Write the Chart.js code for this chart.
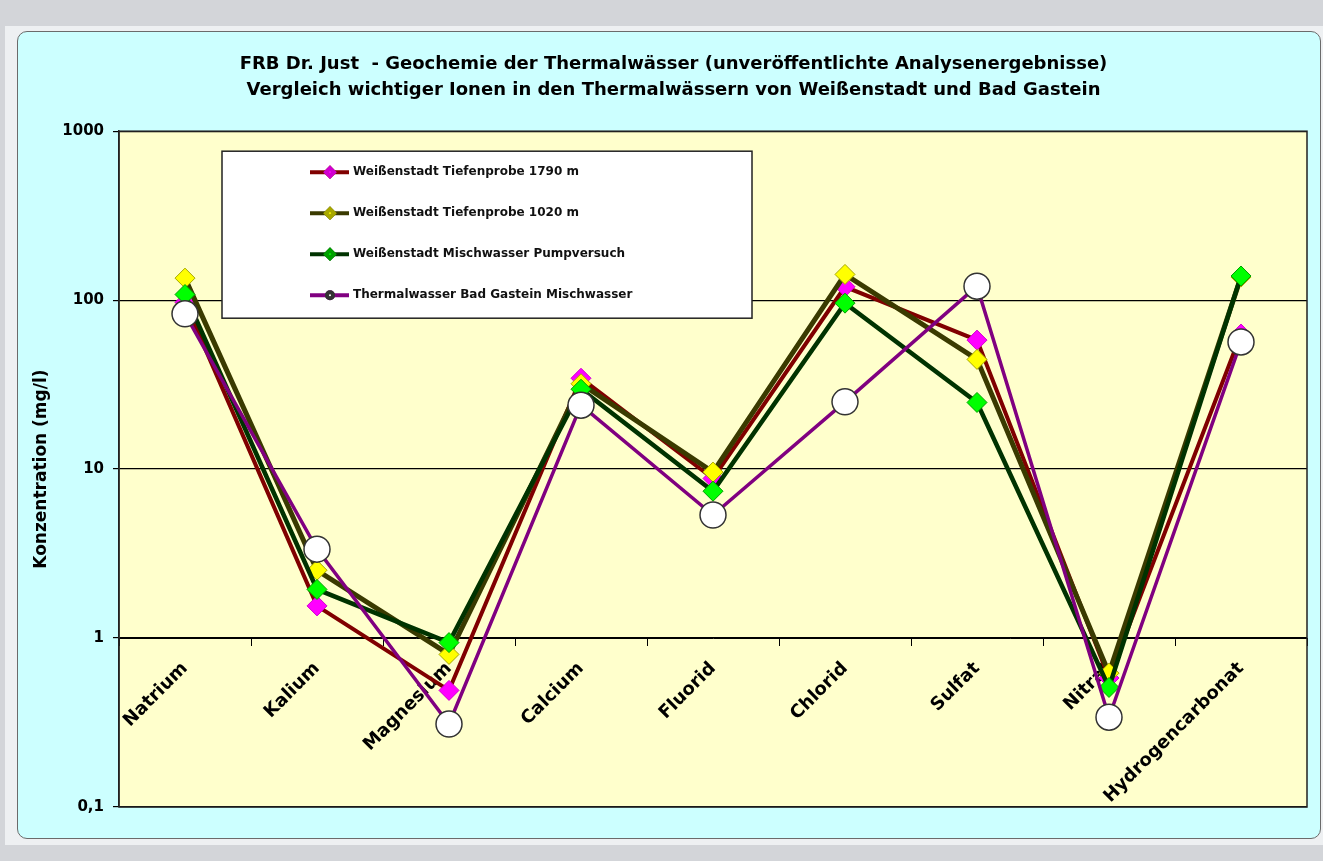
<!DOCTYPE html>
<html>
<head>
<meta charset="utf-8">
<title>Geochemie der Thermalwässer</title>
<script src="https://cdn.jsdelivr.net/npm/chart.js@4.4.1/dist/chart.umd.min.js"></script>
<style>
    html, body { margin: 0; padding: 0; }
    body { width: 1323px; height: 861px; background: #D3D5D9; position: relative; overflow: hidden; }
    #frame { position: absolute; left: 5px; top: 26px; width: 1318px; height: 819px; background: #EEF0F2; }
    #panel { position: absolute; left: 17px; top: 31px; width: 1302px; height: 806px; background: #CCFFFF;
             border: 1px solid #6b6b6b; border-radius: 10px; }
    #wrap { position: absolute; left: 0; top: 0; width: 1323px; height: 861px; }
</style>
</head>
<body>
<div id="frame"></div>
<div id="panel"></div>
<div id="wrap"><canvas id="chart"></canvas></div>

<script>
// Daten (mg/l)
const ionen = ['Natrium', 'Kalium', 'Magnesium', 'Calcium', 'Fluorid', 'Chlorid', 'Sulfat', 'Nitrat', 'Hydrogencarbonat'];

const tiefe1790 = [97, 1.55, 0.49, 34.5, 8.8, 120, 58, 0.58, 63];
const tiefe1020 = [135, 2.52, 0.80, 32, 9.6, 142, 44.6, 0.62, 137];
const mischPump = [108, 1.94, 0.94, 29.7, 7.4, 96, 24.8, 0.51, 139];
const gastein   = [83, 3.36, 0.31, 23.9, 5.35, 25, 121, 0.34, 56.6];

const serienNamen = [
    'Weißenstadt Tiefenprobe 1790 m',
    'Weißenstadt Tiefenprobe 1020 m',
    'Weißenstadt Mischwasser Pumpversuch',
    'Thermalwasser Bad Gastein Mischwasser'
];

const yTicks = [0.1, 1, 10, 100, 1000];
const yLabels = ['0,1', '1', '10', '100', '1000'];

const titelZeilen = [
    'FRB Dr. Just  - Geochemie der Thermalwässer (unveröffentlichte Analysenergebnisse)',
    'Vergleich wichtiger Ionen in den Thermalwässern von Weißenstadt und Bad Gastein'
];

const FONT = '"DejaVu Sans", "Liberation Sans", Arial, sans-serif';

// Hintergrund der Zeichenfläche (gelb)
const plotHintergrund = {
    id: 'plotHintergrund',
    beforeDraw(chart) {
        const { ctx, chartArea: a } = chart;
        ctx.save();
        ctx.fillStyle = '#FFFFCC';
        ctx.fillRect(a.left, a.top, a.right - a.left, a.bottom - a.top);
        ctx.restore();
    }
};

// Rahmen der Zeichenfläche
const plotRahmen = {
    id: 'plotRahmen',
    beforeDatasetsDraw(chart) {
        const { ctx, chartArea: a } = chart;
        ctx.save();
        ctx.strokeStyle = '#222';
        ctx.lineWidth = 1.5;
        ctx.strokeRect(a.left, a.top, a.right - a.left, a.bottom - a.top);
        ctx.restore();
    }
};

// Legende als Kasten innerhalb der Zeichenfläche
const kastenLegende = {
    id: 'kastenLegende',
    afterDraw(chart) {
        const { ctx, chartArea: a } = chart;
        const x = a.left + 103, y = a.top + 20, w = 530, h = 167;
        ctx.save();
        ctx.fillStyle = '#FFFFFF';
        ctx.fillRect(x, y, w, h);
        ctx.strokeStyle = '#222';
        ctx.lineWidth = 1.5;
        ctx.strokeRect(x, y, w, h);

        chart.data.datasets.forEach((ds, i) => {
            const cy = y + 21 + i * 41;
            ctx.strokeStyle = ds.borderColor;
            ctx.lineWidth = 4;
            ctx.beginPath();
            ctx.moveTo(x + 88, cy);
            ctx.lineTo(x + 127, cy);
            ctx.stroke();
            Chart.helpers.drawPoint(ctx, {
                pointStyle: ds.pointStyle,
                radius: ds.pointStyle === 'circle' ? 3 : 4,
                borderWidth: 1
            }, x + 108, cy);
            ctx.fillStyle = ds.pointBackgroundColor;
            ctx.strokeStyle = ds.pointBorderColor;
            ctx.fill();
            ctx.stroke();

            ctx.fillStyle = '#111';
            ctx.font = 'bold 12px ' + FONT;
            ctx.textBaseline = 'middle';
            ctx.textAlign = 'left';
            ctx.fillText(ds.label, x + 131, cy);
        });
        ctx.restore();
    }
};

new Chart(document.getElementById('chart'), {
    type: 'line',
    data: {
        labels: ionen,
        datasets: [
            {
                label: serienNamen[0],
                data: tiefe1790,
                borderColor: '#800000',
                borderWidth: 4,
                pointStyle: 'rectRot',
                pointRadius: 10,
                pointBackgroundColor: '#FF00FF',
                pointBorderColor: '#D000D0',
                pointBorderWidth: 1,
                order: 4
            },
            {
                label: serienNamen[1],
                data: tiefe1020,
                borderColor: '#3A3A00',
                borderWidth: 5,
                pointStyle: 'rectRot',
                pointRadius: 10,
                pointBackgroundColor: '#FFFF00',
                pointBorderColor: '#A8A800',
                pointBorderWidth: 1,
                order: 3
            },
            {
                label: serienNamen[2],
                data: mischPump,
                borderColor: '#003300',
                borderWidth: 4.5,
                pointStyle: 'rectRot',
                pointRadius: 10,
                pointBackgroundColor: '#00FF00',
                pointBorderColor: '#00A000',
                pointBorderWidth: 1,
                order: 2
            },
            {
                label: serienNamen[3],
                data: gastein,
                borderColor: '#800080',
                borderWidth: 3.5,
                pointStyle: 'circle',
                pointRadius: 13,
                pointBackgroundColor: '#FFFFFF',
                pointBorderColor: '#333333',
                pointBorderWidth: 1.5,
                order: 1
            }
        ]
    },
    options: {
        responsive: true,
        maintainAspectRatio: false,
        animation: false,
        events: [],
        layout: { padding: { left: 40, right: 16, top: 0, bottom: 54 } },
        elements: { line: { tension: 0 } },
        plugins: {
            legend: { display: false },
            tooltip: { enabled: false },
            title: {
                display: true,
                text: titelZeilen,
                color: '#000',
                font: { family: FONT, size: 18, weight: 'bold', lineHeight: 1.45 },
                padding: { top: 51, bottom: 28 }
            }
        },
        scales: {
            x: {
                type: 'category',
                position: { y: 1 },
                offset: true,
                grid: {
                    offset: true,
                    drawOnChartArea: false,
                    drawTicks: true,
                    tickLength: 7,
                    color: '#000'
                },
                border: { display: true, color: '#000', width: 1 },
                ticks: {
                    autoSkip: false,
                    minRotation: 45,
                    maxRotation: 45,
                    padding: 13,
                    color: '#000',
                    font: { family: FONT, size: 18, weight: 'bold' }
                }
            },
            y: {
                type: 'logarithmic',
                min: 0.1,
                max: 1000,
                afterBuildTicks(scale) {
                    scale.ticks = yTicks.map(v => ({ value: v, major: true }));
                },
                afterFit(scale) {
                    scale.width = 79;
                },
                grid: {
                    color: '#000',
                    lineWidth: 1.2,
                    tickLength: 6,
                    drawTicks: true
                },
                border: { display: true, color: '#222', width: 1.5 },
                ticks: {
                    padding: 9,
                    color: '#000',
                    font: { family: FONT, size: 15, weight: 'bold' },
                    callback(value) {
                        const i = yTicks.indexOf(value);
                        return i >= 0 ? yLabels[i] : '';
                    }
                },
                title: {
                    display: true,
                    text: 'Konzentration (mg/l)',
                    color: '#000',
                    font: { family: FONT, size: 17, weight: 'bold' },
                    padding: { top: -9, bottom: 0 }
                }
            }
        }
    },
    plugins: [plotHintergrund, plotRahmen, kastenLegende]
});
</script>
</body>
</html>
